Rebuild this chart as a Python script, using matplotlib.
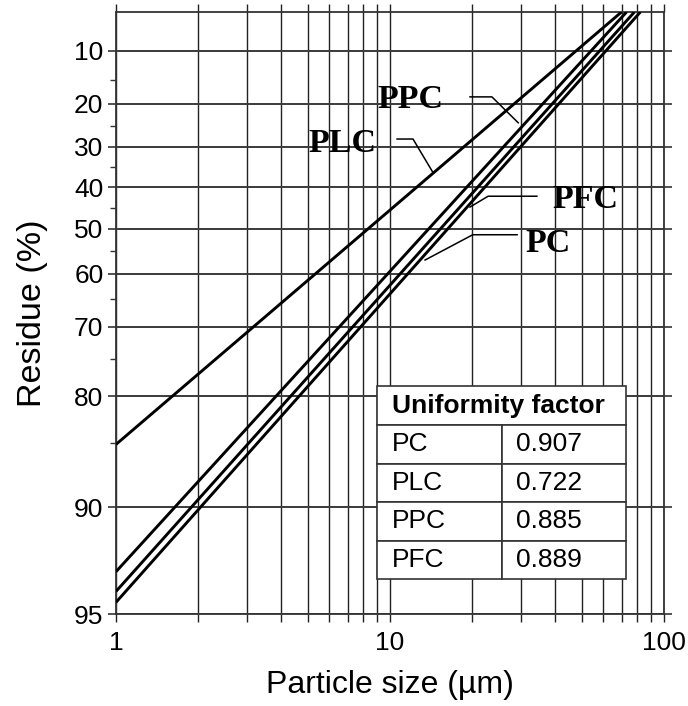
import numpy as np
import matplotlib
matplotlib.use("Agg")
import matplotlib.pyplot as plt

# --- Data (RRSB lines: start at 1 um, end at top edge R=5 %) ---
cements = ["PC", "PLC", "PPC", "PFC"]
uniformity = ["0.907", "0.722", "0.885", "0.889"]

x_start = [1.0, 1.0, 1.0, 1.0]
r_start = [94.6, 85.1, 93.4, 94.2]
x_end = [82.0, 70.0, 73.0, 78.0]
r_end = [5.0, 5.0, 5.0, 5.0]

y_major = [10, 20, 30, 40, 50, 60, 70, 80, 90, 95]
y_minor = [15, 25, 35, 45, 55, 65, 75, 85]
x_major = [1, 10, 100]
x_minor = [2, 3, 4, 5, 6, 7, 8, 9, 20, 30, 40, 50, 60, 70, 80, 90]


# Rosin-Rammler-Sperling-Bennett residue scale
def rr_fwd(r):
    r = np.asarray(r, dtype=float)
    with np.errstate(divide="ignore", invalid="ignore"):
        return -np.log(np.log(100.0 / np.clip(r, 1e-6, 100 - 1e-9)))


def rr_inv(f):
    f = np.asarray(f, dtype=float)
    return 100.0 * np.exp(-np.exp(-f))


plt.rcParams["font.family"] = ["Liberation Sans", "DejaVu Sans"]

fig = plt.figure(figsize=(6.88, 7.06), dpi=100)
ax = fig.add_axes([0.1686, 0.1303, 0.7965, 0.8527])

ax.set_xscale("log")
ax.set_yscale("function", functions=(rr_fwd, rr_inv))
ax.set_xlim(1, 100)
ax.set_ylim(95, 5)

# grid
ax.set_xticks(x_major)
ax.set_xticklabels([str(v) for v in x_major])
ax.set_xticks(x_minor, minor=True)
ax.set_xticklabels([], minor=True)
ax.set_yticks(y_major)
ax.set_yticklabels([str(v) for v in y_major])
ax.set_yticks(y_minor, minor=True)
ax.set_yticklabels([], minor=True)

ax.grid(True, axis="x", which="both", color="#222222", lw=1.0)
ax.grid(True, axis="y", which="major", color="#3a3a3a", lw=1.4)

ax.tick_params(axis="x", which="both", direction="out", length=6, width=1,
               top=True, bottom=True, labelsize=19, pad=6, color="#222222")
ax.tick_params(axis="y", which="major", direction="out", length=6, width=1.2,
               left=True, right=True, labelsize=19, pad=3, color="#333333")
ax.tick_params(axis="y", which="minor", direction="out", length=4, width=1,
               left=True, right=False, color="#333333")
for s in ax.spines.values():
    s.set_color("#333333")
    s.set_linewidth(1.3)

# lines
for i in range(len(cements)):
    ax.plot([x_start[i], x_end[i]], [r_start[i], r_end[i]],
            color="black", lw=2.1, solid_capstyle="butt", zorder=4)

ax.set_xlabel("Particle size (\u00b5m)", fontsize=23, labelpad=11)
ax.set_ylabel("Residue (%)", fontsize=24.5, labelpad=19)

# labels with leader lines (axes fractions)
label_pos = {"PPC": (0.5365, 0.8545), "PLC": (0.4124, 0.7815),
             "PFC": (0.856, 0.688), "PC": (0.788, 0.616)}
leaders = {
    "PPC": [(0.646, 0.859), (0.686, 0.859), (0.734, 0.816)],
    "PLC": [(0.513, 0.789), (0.542, 0.789), (0.578, 0.734)],
    "PFC": [(0.768, 0.694), (0.679, 0.694), (0.646, 0.676)],
    "PC": [(0.732, 0.630), (0.651, 0.630), (0.564, 0.588)],
}
for name, (tx, ty) in label_pos.items():
    ax.text(tx, ty, name, transform=ax.transAxes, ha="center", va="center",
            fontsize=24.5, fontweight="bold", family="Liberation Serif",
            zorder=6)
    px, py = zip(*leaders[name])
    ax.plot(px, py, transform=ax.transAxes, color="black", lw=1.1, zorder=5)

# uniformity factor table
head = ax.table(cellText=[["Uniformity factor"]], cellLoc="left",
                bbox=[0.476, 0.314, 0.455, 0.0647], zorder=7)
body = ax.table(cellText=[[c, u] for c, u in zip(cements, uniformity)],
                cellLoc="left", bbox=[0.476, 0.058, 0.455, 0.256], zorder=7)
for tbl in (head, body):
    tbl.auto_set_font_size(False)
    tbl.set_fontsize(19)
    for key, cell in tbl.get_celld().items():
        cell.set_edgecolor("#333333")
        cell.set_linewidth(1.2)
        cell.set_facecolor("white")
        cell.PAD = 0.06 if tbl is head else 0.12
head[0, 0].get_text().set_fontweight("bold")

fig.savefig("out.png", dpi=100)
